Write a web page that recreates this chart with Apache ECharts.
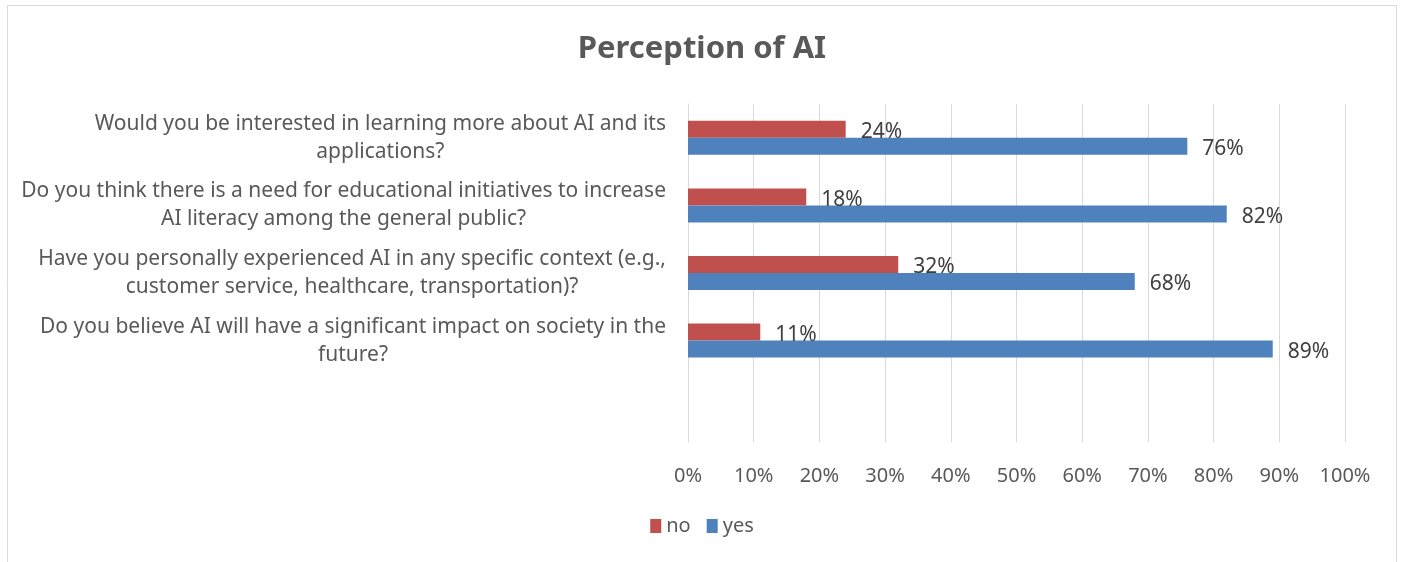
<!DOCTYPE html>
<html>
<head>
<meta charset="utf-8">
<title>Perception of AI</title>
<script src="https://cdn.jsdelivr.net/npm/echarts@6/dist/echarts.min.js"></script>
<style>
  html, body { margin: 0; padding: 0; background: #fff; }
  #chart { width: 1404px; height: 562px; }
</style>
</head>
<body>
<div id="chart"></div>
<script>
  // questions, top to bottom; the last empty row is kept as in the source chart
  const categories = [
    'Would you be interested in learning more about AI and its\napplications?',
    'Do you think there is a need for educational initiatives to increase\nAI literacy among the general public?',
    'Have you personally experienced AI in any specific context (e.g.,\ncustomer service, healthcare, transportation)?',
    'Do you believe AI will have a significant impact on society in the\nfuture?',
    '',
  ];
  const seriesNames = ['no', 'yes'];
  const noValues = [24, 18, 32, 11, null];
  const yesValues = [76, 82, 68, 89, null];
  const xMin = 0;
  const xMax = 100;
  const xStep = 10;

  const textColor = '#595959';
  const fontFamily = '"Noto Sans", sans-serif';

  const chart = echarts.init(document.getElementById('chart'));

  const barLabel = {
    show: true,
    position: 'right',
    distance: 15,
    offset: [0, 3],
    formatter: '{c}%',
    color: '#404040',
    fontSize: 21,
    fontFamily,
  };

  chart.setOption({
    backgroundColor: '#fff',
    animation: false,
    graphic: [
      {
        type: 'rect',
        shape: { x: 7.5, y: 5.5, width: 1389, height: 600 },
        style: { fill: 'none', stroke: '#d9d9d9', lineWidth: 1 },
        silent: true,
      },
    ],
    title: {
      text: 'Perception of AI',
      left: 'center',
      top: 29,
      textStyle: {
        color: textColor,
        fontSize: 31,
        fontWeight: 'bold',
        fontFamily,
      },
    },
    legend: {
      data: seriesNames,
      left: 'center',
      top: 511,
      itemWidth: 11,
      itemHeight: 14,
      itemGap: 16,
      icon: 'rect',
      textStyle: { color: textColor, fontSize: 20, fontFamily },
    },
    grid: {
      left: 688,
      right: 59,
      top: 104,
      bottom: 120,
    },
    xAxis: {
      type: 'value',
      min: xMin,
      max: xMax,
      interval: xStep,
      axisLine: { show: false },
      axisTick: { show: false },
      splitLine: { lineStyle: { color: '#d9d9d9', width: 1 } },
      axisLabel: {
        formatter: '{value}%',
        margin: 24,
        color: textColor,
        fontSize: 20,
        fontFamily,
      },
    },
    yAxis: {
      type: 'category',
      inverse: true,
      data: categories,
      axisTick: { show: false },
      axisLine: { lineStyle: { color: '#d9d9d9', width: 1 } },
      axisLabel: {
        margin: 22,
        interval: 0,
        formatter: (v) => (v ? v.split('\n').map((l) => '{c|' + l + '}').join('\n') : ''),
        rich: {
          c: {
            align: 'center',
            color: textColor,
            fontSize: 21,
            lineHeight: 28,
            fontFamily,
          },
        },
      },
    },
    series: [
      {
        name: seriesNames[0],
        type: 'bar',
        data: noValues,
        barWidth: 17,
        barGap: '0%',
        itemStyle: { color: '#C0504D' },
        label: barLabel,
      },
      {
        name: seriesNames[1],
        type: 'bar',
        data: yesValues,
        barWidth: 17,
        barGap: '0%',
        itemStyle: { color: '#4F81BD' },
        label: barLabel,
      },
    ],
  });
</script>
</body>
</html>
